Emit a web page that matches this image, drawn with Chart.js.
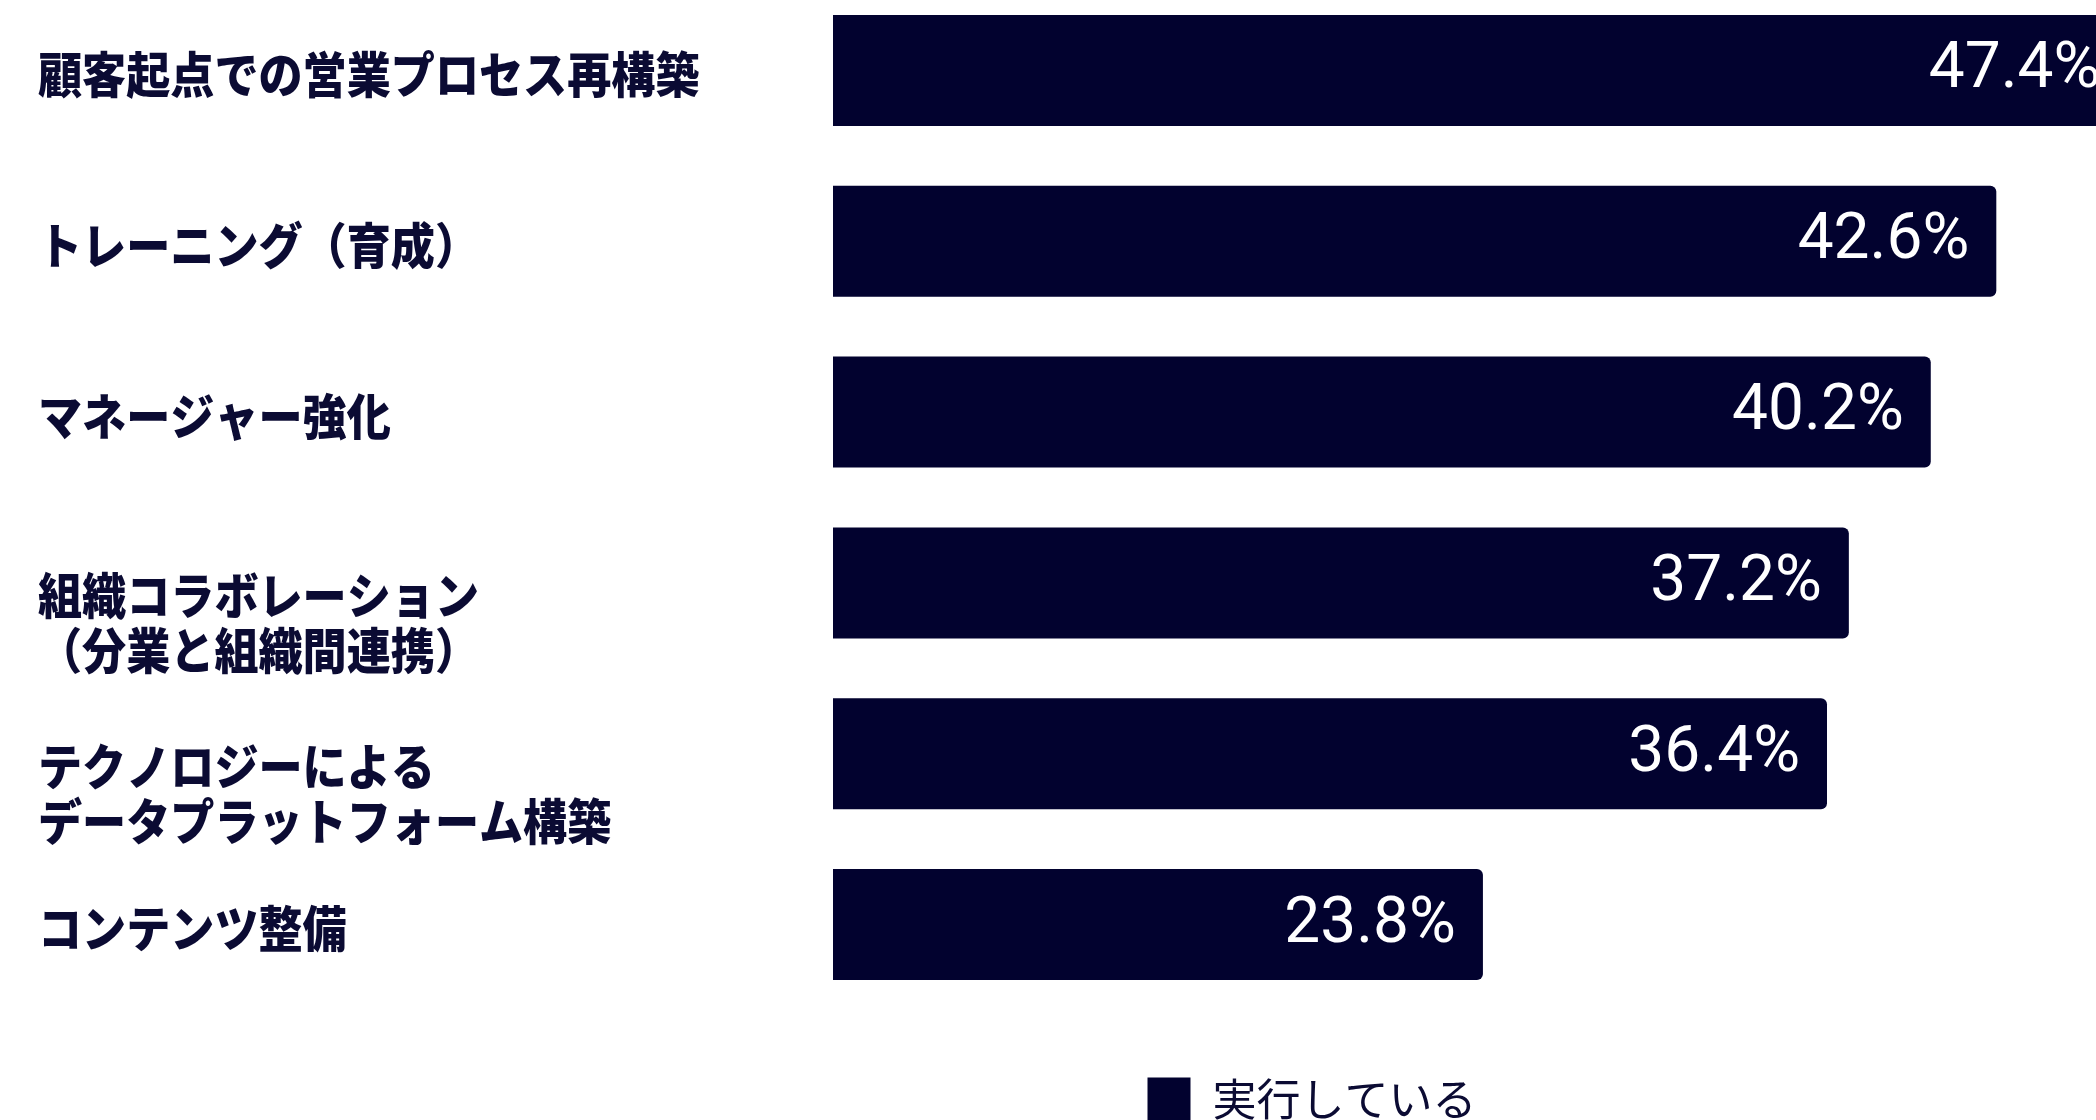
<!DOCTYPE html>
<html lang="ja">
<head>
<meta charset="utf-8">
<title>営業施策の実行状況</title>
<script src="https://cdn.jsdelivr.net/npm/chart.js@4.4.1/dist/chart.umd.min.js"></script>
<style>
  html, body { margin: 0; padding: 0; background: #ffffff; overflow: hidden; width: 2096px; height: 1120px; }
  #wrap { position: absolute; left: 0; top: -15px; width: 2608px; height: 1146px; }
  canvas { display: block; }
</style>
</head>
<body>
<div id="wrap"><canvas id="chart" width="2608" height="1146"></canvas></div>
<script>
// Categories (one entry per line of each label)
const categories = [
  ['顧客起点での営業プロセス再構築'],
  ['トレーニング（育成）'],
  ['マネージャー強化'],
  ['組織コラボレーション', '（分業と組織間連携）'],
  ['テクノロジーによる', 'データプラットフォーム構築'],
  ['コンテンツ整備']
];
// Share of respondents (%)
const executedValues = [47.4, 42.6, 40.2, 37.2, 36.4, 23.8];
const seriesName = '実行している';

const NAVY = '#02022f';
const TEXT_NAVY = '#0b0b33';

// Category names drawn left-aligned in the gutter beside each bar
const categoryLabels = {
  id: 'categoryLabels',
  afterDatasetsDraw(chart) {
    const { ctx } = chart;
    const yScale = chart.scales.y;
    const fontSize = 49, lineHeight = 55.5, squeeze = 0.9;
    ctx.save();
    ctx.fillStyle = TEXT_NAVY;
    ctx.font = `900 ${fontSize}px "Noto Sans CJK JP", "Noto Sans", sans-serif`;
    ctx.textAlign = 'left';
    ctx.textBaseline = 'middle';
    categories.forEach((lines, i) => {
      const center = yScale.getPixelForValue(i) + 4 + (lines.length - 1) * 36;
      const firstY = center - (lines.length - 1) * lineHeight / 2;
      lines.forEach((line, j) => {
        ctx.save();
        ctx.translate(38, firstY + j * lineHeight);
        ctx.scale(squeeze, 1);
        ctx.fillText(line, 0, 0);
        ctx.restore();
      });
    });
    ctx.restore();
  }
};

// Percentage printed inside the right end of each bar
const valueLabels = {
  id: 'valueLabels',
  afterDatasetsDraw(chart) {
    const { ctx } = chart;
    const meta = chart.getDatasetMeta(0);
    ctx.save();
    ctx.fillStyle = '#ffffff';
    ctx.font = '64px Roboto, "Liberation Sans", sans-serif';
    ctx.textAlign = 'right';
    ctx.textBaseline = 'middle';
    meta.data.forEach((bar, i) => {
      ctx.fillText(executedValues[i].toFixed(1) + '%', bar.x - 27, bar.y + 1);
    });
    ctx.restore();
  }
};

new Chart(document.getElementById('chart'), {
  type: 'bar',
  data: {
    labels: categories.map(l => l.join('')),
    datasets: [{
      label: seriesName,
      data: executedValues,
      backgroundColor: NAVY,
      borderWidth: 0,
      borderRadius: 6,
      borderSkipped: 'start',
      categoryPercentage: 1,
      barPercentage: 0.65
    }]
  },
  options: {
    indexAxis: 'y',
    responsive: false,
    devicePixelRatio: 1,
    animation: false,
    layout: { padding: { left: 16, right: 0, top: 0, bottom: 0 } },
    scales: {
      x: {
        min: 0,
        max: 65,
        display: false
      },
      y: {
        ticks: { display: false },
        grid: { display: false },
        border: { display: false },
        afterFit(scale) { scale.width = 817; }
      }
    },
    plugins: {
      tooltip: { enabled: false },
      legend: {
        position: 'bottom',
        align: 'center',
        labels: {
          boxWidth: 43,
          boxHeight: 43,
          padding: 67,
          color: TEXT_NAVY,
          font: { family: '"Noto Sans CJK JP", "Noto Sans", sans-serif', size: 44, weight: '400' }
        }
      }
    }
  },
  plugins: [categoryLabels, valueLabels]
});
</script>
</body>
</html>
